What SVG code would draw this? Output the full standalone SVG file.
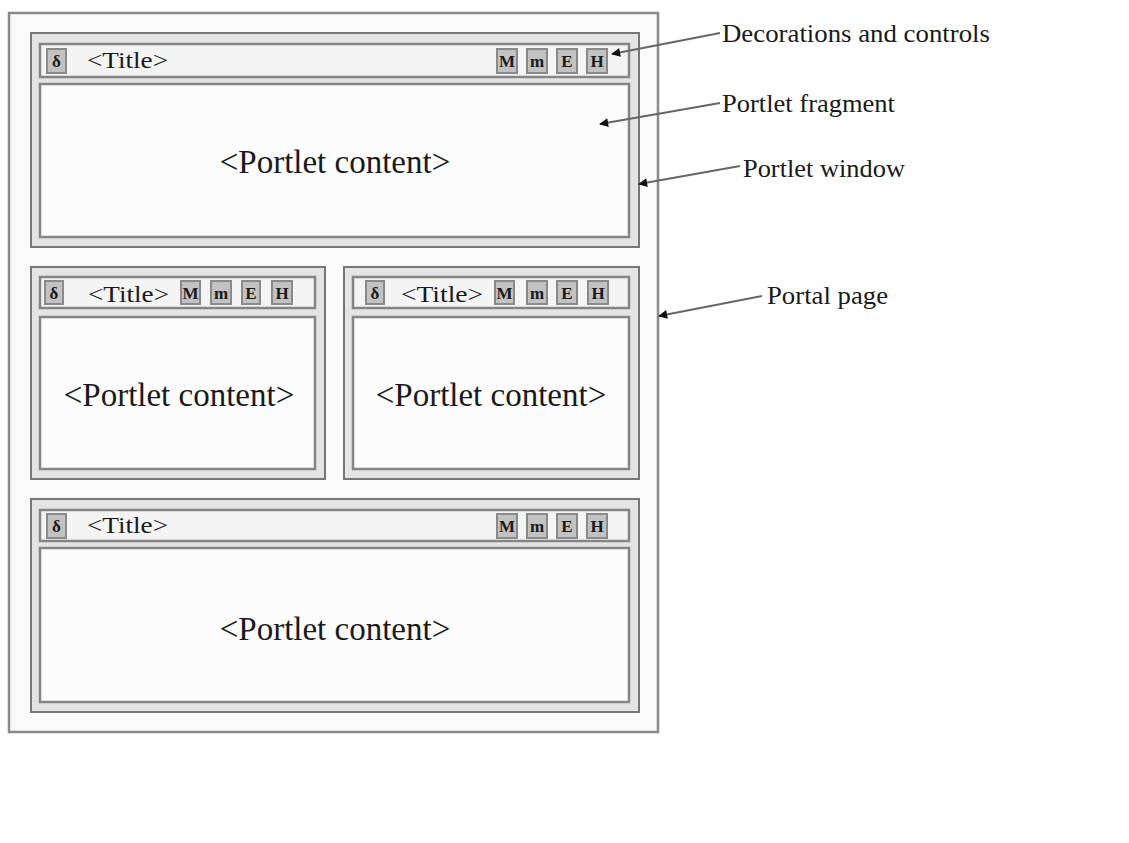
<svg xmlns="http://www.w3.org/2000/svg" width="1129" height="843" viewBox="0 0 1129 843">
<defs>
<marker id="ah" viewBox="0 0 10 10" refX="9" refY="5" markerWidth="11" markerHeight="9" markerUnits="userSpaceOnUse" orient="auto">
<path d="M0,0 L10,5 L0,10 z" fill="#111"/>
</marker>
</defs>
<style>
text{font-family:"Liberation Serif","Times New Roman",serif;fill:#1a1a1a}
.page{fill:#fafafa;stroke:#8a8a8a;stroke-width:2.5}
.win{fill:#e4e4e4;stroke:#767676;stroke-width:2}
.bar{fill:#f4f4f4;stroke:#858585;stroke-width:2.5}
.content{fill:#fcfcfc;stroke:#858585;stroke-width:2.5}
.btn{fill:#c2c2c2;stroke:#8a8a8a;stroke-width:2}
.bt{font-size:17px;font-weight:bold;text-anchor:middle}
.title{font-size:24px}
.pc{font-size:33px;text-anchor:middle}
.lbl{font-size:26px}
.conn{stroke:#666;stroke-width:1.8;fill:none}
</style>
<rect x="0" y="0" width="1129" height="843" fill="#ffffff"/>
<g id="portal-page">
<rect class="page" x="9" y="13" width="649" height="719"/>
</g>
<g id="window-top">
<rect class="win" x="31" y="33" width="608" height="214"/>
<rect class="bar" x="40" y="44" width="589" height="33"/>
<rect class="btn" x="47" y="49" width="19" height="24"/><text class="bt" x="56.5" y="67">δ</text>
<text class="title" x="87" y="68" textLength="81" lengthAdjust="spacingAndGlyphs">&lt;Title&gt;</text>
<rect class="btn" x="497" y="49" width="20" height="24"/><text class="bt" x="507" y="67">M</text>
<rect class="btn" x="527" y="49" width="20" height="24"/><text class="bt" x="537" y="67">m</text>
<rect class="btn" x="557" y="49" width="20" height="24"/><text class="bt" x="567" y="67">E</text>
<rect class="btn" x="587" y="49" width="20" height="24"/><text class="bt" x="597" y="67">H</text>
<rect class="content" x="40" y="84" width="589" height="153"/>
<text class="pc" x="335" y="173">&lt;Portlet content&gt;</text>
</g>
<g id="window-mid-left">
<rect class="win" x="31" y="267" width="294" height="212"/>
<rect class="bar" x="40" y="277" width="275" height="31"/>
<rect class="btn" x="45" y="281" width="18" height="23"/><text class="bt" x="54" y="299">δ</text>
<text class="title" x="88" y="302" textLength="81" lengthAdjust="spacingAndGlyphs">&lt;Title&gt;</text>
<rect class="btn" x="181" y="281" width="19" height="23"/><text class="bt" x="190.5" y="299">M</text>
<rect class="btn" x="211" y="281" width="20" height="23"/><text class="bt" x="221" y="299">m</text>
<rect class="btn" x="242" y="281" width="18" height="23"/><text class="bt" x="251" y="299">E</text>
<rect class="btn" x="272" y="281" width="20" height="23"/><text class="bt" x="282" y="299">H</text>
<rect class="content" x="40" y="317" width="275" height="152"/>
<text class="pc" x="179" y="406">&lt;Portlet content&gt;</text>
</g>
<g id="window-mid-right">
<rect class="win" x="344" y="267" width="295" height="212"/>
<rect class="bar" x="353" y="277" width="276" height="31"/>
<rect class="btn" x="366" y="281" width="18" height="23"/><text class="bt" x="375" y="299">δ</text>
<text class="title" x="401" y="302" textLength="82" lengthAdjust="spacingAndGlyphs">&lt;Title&gt;</text>
<rect class="btn" x="495" y="281" width="19" height="23"/><text class="bt" x="504.5" y="299">M</text>
<rect class="btn" x="527" y="281" width="20" height="23"/><text class="bt" x="537" y="299">m</text>
<rect class="btn" x="557" y="281" width="20" height="23"/><text class="bt" x="567" y="299">E</text>
<rect class="btn" x="588" y="281" width="20" height="23"/><text class="bt" x="598" y="299">H</text>
<rect class="content" x="353" y="317" width="276" height="152"/>
<text class="pc" x="491" y="406">&lt;Portlet content&gt;</text>
</g>
<g id="window-bottom">
<rect class="win" x="31" y="499" width="608" height="213"/>
<rect class="bar" x="40" y="510" width="589" height="31"/>
<rect class="btn" x="47" y="514" width="19" height="24"/><text class="bt" x="56.5" y="532">δ</text>
<text class="title" x="87" y="533" textLength="81" lengthAdjust="spacingAndGlyphs">&lt;Title&gt;</text>
<rect class="btn" x="497" y="514" width="20" height="24"/><text class="bt" x="507" y="532">M</text>
<rect class="btn" x="527" y="514" width="20" height="24"/><text class="bt" x="537" y="532">m</text>
<rect class="btn" x="557" y="514" width="20" height="24"/><text class="bt" x="567" y="532">E</text>
<rect class="btn" x="587" y="514" width="20" height="24"/><text class="bt" x="597" y="532">H</text>
<rect class="content" x="40" y="548" width="589" height="154"/>
<text class="pc" x="335" y="640">&lt;Portlet content&gt;</text>
</g>
<g id="connectors">
<line class="conn" x1="720" y1="33" x2="612" y2="54" marker-end="url(#ah)"/>
<line class="conn" x1="720" y1="103" x2="600" y2="124" marker-end="url(#ah)"/>
<line class="conn" x1="740" y1="166" x2="639" y2="184" marker-end="url(#ah)"/>
<line class="conn" x1="762" y1="296" x2="659" y2="316" marker-end="url(#ah)"/>
</g>
<g id="labels">
<text class="lbl" x="722" y="42" textLength="268" lengthAdjust="spacingAndGlyphs">Decorations and controls</text>
<text class="lbl" x="722" y="112" textLength="173" lengthAdjust="spacingAndGlyphs">Portlet fragment</text>
<text class="lbl" x="743" y="177" textLength="162" lengthAdjust="spacingAndGlyphs">Portlet window</text>
<text class="lbl" x="767" y="304" textLength="121" lengthAdjust="spacingAndGlyphs">Portal page</text>
</g>
</svg>
